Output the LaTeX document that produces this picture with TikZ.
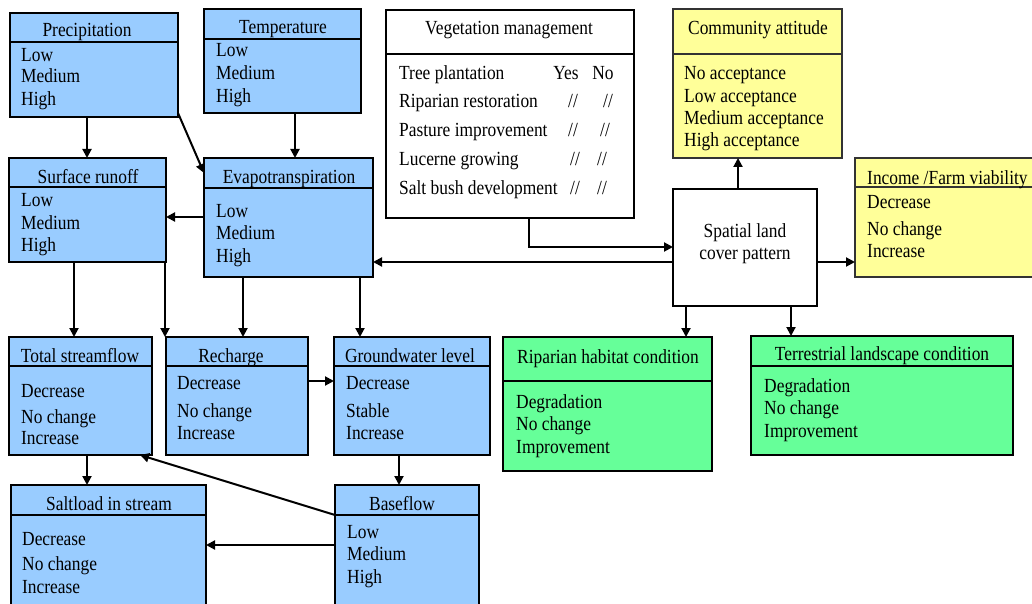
\documentclass[tikz,border=0pt]{standalone}
\usepackage{fontspec}
\setmainfont{Liberation Serif}[FakeStretch=0.87]
\usetikzlibrary{arrows.meta}
\definecolor{bluef}{RGB}{153,204,255}
\definecolor{yelf}{RGB}{255,255,153}
\definecolor{greenf}{RGB}{102,255,153}
\newcommand\mkbox[7]{%
  \node[#2, anchor=north west, minimum width={(#5-#3)*1pt}, minimum height={(#6-#4)*1pt}] (#1) at (#3,#4) {};
  \draw[#2] (#3,#7) -- (#5,#7);}
\tikzset{
  bluebx/.style={draw=black, fill=bluef, line width=1.2pt, inner sep=0pt, outer sep=0pt},
  yelbx/.style={draw=black!80, fill=yelf, line width=1.2pt, inner sep=0pt, outer sep=0pt},
  greenbx/.style={draw=black, fill=greenf, line width=1.8pt, inner sep=0pt, outer sep=0pt},
  whitebx/.style={draw=black, fill=white, line width=1.8pt, inner sep=0pt, outer sep=0pt},
  txt/.style={font=\fontsize{20}{22}\selectfont, inner sep=0pt, anchor=base west},
  ttl/.style={font=\fontsize{20}{22}\selectfont, inner sep=0pt, anchor=base},
  arr/.style={line width=2pt, -{Triangle[length=9pt,width=9pt]}},
}
\begin{document}
\begin{tikzpicture}[x=1pt,y=-1pt]
\clip (0,0) rectangle (1032,604);
\fill[white] (0,0) rectangle (1032,604);
% boxes
\mkbox{prec}{bluebx}{10}{13}{178}{117}{42}
\mkbox{temp}{bluebx}{204}{9}{361}{113}{39}
\mkbox{surf}{bluebx}{9}{158}{166}{262}{187}
\mkbox{evap}{bluebx}{204}{158}{373}{277}{188}
\mkbox{veg}{whitebx}{386}{10}{634}{218}{54}
\mkbox{comm}{yelbx}{673}{9}{842}{158}{54}
\node[whitebx, anchor=north west, minimum width=144pt, minimum height=117pt] (spat) at (673,189) {};
\mkbox{inc}{yelbx}{855}{158}{1060}{277}{187}
\mkbox{rip}{greenbx}{503}{337}{712}{471}{381}
\mkbox{terr}{greenbx}{751}{336}{1013}{455}{366}
\mkbox{total}{bluebx}{9}{337}{152}{455}{366}
\mkbox{rech}{bluebx}{166}{337}{308}{455}{366}
\mkbox{gw}{bluebx}{334}{337}{490}{455}{366}
\mkbox{salt}{bluebx}{11}{485}{206}{640}{515}
\mkbox{base}{bluebx}{335}{485}{479}{640}{515}
% texts
\node[ttl] (precT) at (87,37) {Precipitation};
\node[txt] (prec1) at (21,62) {Low};
\node[txt] (prec2) at (21,83) {Medium};
\node[txt] (prec3) at (21,106) {High};
\node[ttl] (tempT) at (283,34) {Temperature};
\node[txt] (temp1) at (216,57) {Low};
\node[txt] (temp2) at (216,80) {Medium};
\node[txt] (temp3) at (216,103) {High};
\node[ttl] (surfT) at (88,183) {Surface runoff};
\node[txt] (surf1) at (21,206) {Low};
\node[txt] (surf2) at (21,229) {Medium};
\node[txt] (surf3) at (21,251) {High};
\node[ttl] (evapT) at (289,183) {Evapotranspiration};
\node[txt] (evap1) at (216,217) {Low};
\node[txt] (evap2) at (216,239) {Medium};
\node[txt] (evap3) at (216,262) {High};
\node[ttl] (vegT) at (509,35) {Vegetation management};
\node[txt] (veg1) at (399,80) {Tree plantation};
\node[txt] (veg2) at (399,108) {Riparian restoration};
\node[txt] (veg3) at (399,137) {Pasture improvement};
\node[txt] (veg4) at (399,166) {Lucerne growing};
\node[txt] (veg5) at (399,194) {Salt bush development};
\node[ttl] (vegY) at (566,80) {Yes};
\node[ttl] (vegN) at (603,80) {No};
\node[ttl] (veg2a) at (573,108) {//};
\node[ttl] (veg2b) at (608,108) {//};
\node[ttl] (veg3a) at (573,137) {//};
\node[ttl] (veg3b) at (605,137) {//};
\node[ttl] (veg4a) at (575,166) {//};
\node[ttl] (veg4b) at (602,166) {//};
\node[ttl] (veg5a) at (575,194) {//};
\node[ttl] (veg5b) at (602,194) {//};
\node[ttl] (commT) at (758,35) {Community attitude};
\node[txt] (comm1) at (684,80) {No acceptance};
\node[txt] (comm2) at (684,103) {Low acceptance};
\node[txt] (comm3) at (684,125) {Medium acceptance};
\node[txt] (comm4) at (684,147) {High acceptance};
\node[ttl] (spat1) at (745,237) {Spatial land};
\node[ttl] (spat2) at (745,259) {cover pattern};
\node[txt] (incT) at (867,184) {Income /Farm viability};
\node[txt] (inc1) at (867,208) {Decrease};
\node[txt] (inc2) at (867,235) {No change};
\node[txt] (inc3) at (867,257) {Increase};
\node[ttl] (ripT) at (608,363) {Riparian habitat condition};
\node[txt] (rip1) at (516,408) {Degradation};
\node[txt] (rip2) at (516,430) {No change};
\node[txt] (rip3) at (516,453) {Improvement};
\node[ttl] (terrT) at (882,360) {Terrestrial landscape condition};
\node[txt] (terr1) at (764,392) {Degradation};
\node[txt] (terr2) at (764,414) {No change};
\node[txt] (terr3) at (764,437) {Improvement};
\node[ttl] (totalT) at (80,362) {Total streamflow};
\node[txt] (total1) at (21,397) {Decrease};
\node[txt] (total2) at (21,423) {No change};
\node[txt] (total3) at (21,444) {Increase};
\node[ttl] (rechT) at (231,362) {Recharge};
\node[txt] (rech1) at (177,389) {Decrease};
\node[txt] (rech2) at (177,417) {No change};
\node[txt] (rech3) at (177,439) {Increase};
\node[ttl] (gwT) at (410,362) {Groundwater level};
\node[txt] (gw1) at (346,389) {Decrease};
\node[txt] (gw2) at (346,417) {Stable};
\node[txt] (gw3) at (346,439) {Increase};
\node[ttl] (saltT) at (109,510) {Saltload in stream};
\node[txt] (salt1) at (22,545) {Decrease};
\node[txt] (salt2) at (22,570) {No change};
\node[txt] (salt3) at (22,593) {Increase};
\node[ttl] (baseT) at (402,510) {Baseflow};
\node[txt] (base1) at (347,538) {Low};
\node[txt] (base2) at (347,560) {Medium};
\node[txt] (base3) at (347,583) {High};
% connectors
\draw[arr] (prec.south -| 87,0) -- (surf.north -| 87,0);
\draw[arr] ([yshift=4pt]prec.south east) -- (evap.west |- 0,173);
\draw[arr] (temp.south -| 295,0) -- (evap.north -| 295,0);
\draw[arr] (evap.west |- 0,217) -- (surf.east |- 0,217);
\draw[arr] (surf.south -| 74,0) -- (total.north -| 74,0);
\draw[arr] (surf.south -| 165,0) -- (rech.north -| 165,0);
\draw[arr] (evap.south -| 243,0) -- (rech.north -| 243,0);
\draw[arr] (evap.south -| 360,0) -- (gw.north -| 360,0);
\draw[arr] (rech.east |- 0,381) -- (gw.west |- 0,381);
\draw[arr] (total.south -| 87,0) -- (salt.north -| 87,0);
\draw[arr] (gw.south -| 399,0) -- (base.north -| 399,0);
\draw[arr] (base.west |- 0,515) -- (total.south -| 140,0);
\draw[arr] (base.west |- 0,545) -- (salt.east |- 0,545);
\draw[arr] (veg.south -| 529,0) |- (spat.west |- 0,247);
\draw[arr] (spat.west |- 0,262) -- (evap.east |- 0,262);
\draw[arr] (spat.east |- 0,262) -- (inc.west |- 0,262);
\draw[arr] (spat.north -| 738,0) -- (comm.south -| 738,0);
\draw[arr] (spat.south -| 686,0) -- (rip.north -| 686,0);
\draw[arr] (spat.south -| 791,0) -- (terr.north -| 791,0);
\end{tikzpicture}
\end{document}
